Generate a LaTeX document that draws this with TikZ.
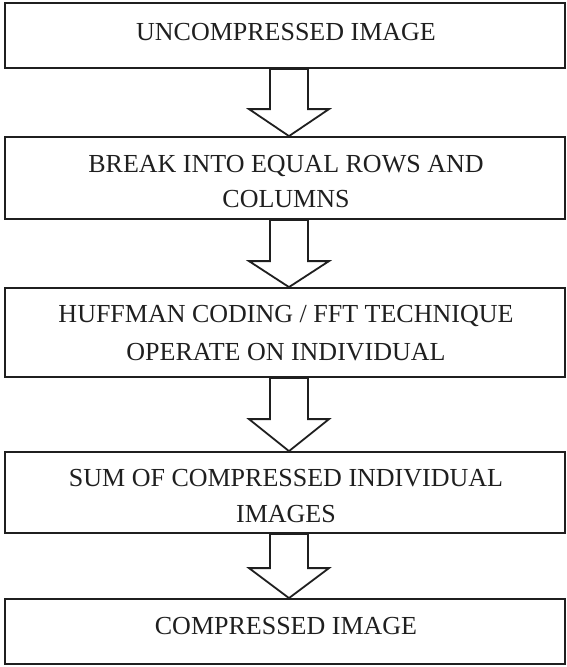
\documentclass[tikz,border=0pt]{standalone}
\usepackage{fontspec}
\setmainfont{Liberation Serif}
\usetikzlibrary{calc}
\tikzset{
  stagebox/.style={draw=black!88, line width=1.8pt, rectangle, minimum width=560pt, inner sep=0pt},
  stagetext/.style={anchor=base, inner sep=0pt, font=\fontsize{26}{31}\selectfont, text=black!88},
  flowarrow/.style={draw=black!88, line width=1.8pt, line join=miter, fill=white}
}
% block arrow: #1 shaft top, #2 tip, #3 head height
\newcommand{\blockarrow}[3]{%
  \draw[flowarrow] ($(#1)+(-19pt,0)$) -- ($(#2)+(-19pt,#3)$) -- ($(#2)+(-40pt,#3)$)
    -- (#2) -- ($(#2)+(40pt,#3)$) -- ($(#2)+(19pt,#3)$) -- ($(#1)+(19pt,0)$) -- cycle;}
\begin{document}
\begin{tikzpicture}[x=1pt,y=1pt]
  \useasboundingbox (0,0) rectangle (566,-667);
  % stage boxes
  \node[stagebox, minimum height=65pt] (box1) at (285,-35.5) {};
  \node[stagebox, minimum height=82pt] (box2) at (285,-178) {};
  \node[stagebox, minimum height=89pt] (box3) at (285,-332.5) {};
  \node[stagebox, minimum height=81pt] (box4) at (285,-492.5) {};
  \node[stagebox, minimum height=65pt] (box5) at (285,-631.5) {};
  % labels
  \node[stagetext] (t1) at (286,-40) {UNCOMPRESSED IMAGE};
  \node[stagetext] (t2a) at (286,-172) {BREAK INTO EQUAL ROWS AND};
  \node[stagetext] (t2b) at (286,-207) {COLUMNS};
  \node[stagetext] (t3a) at (286,-322) {HUFFMAN CODING / FFT TECHNIQUE};
  \node[stagetext] (t3b) at (286,-360) {OPERATE ON INDIVIDUAL};
  \node[stagetext] (t4a) at (286,-486) {SUM OF COMPRESSED INDIVIDUAL};
  \node[stagetext] (t4b) at (286,-522) {IMAGES};
  \node[stagetext] (t5) at (286,-634) {COMPRESSED IMAGE};
  % hollow block arrows between stages
  \coordinate (a1s) at (box1.south -| 289,0);
  \coordinate (a1e) at (box2.north -| 289,0);
  \coordinate (a2s) at (box2.south -| 289,0);
  \coordinate (a2e) at (box3.north -| 289,0);
  \coordinate (a3s) at (box3.south -| 289,0);
  \coordinate (a3e) at (box4.north -| 289,0);
  \coordinate (a4s) at (box4.south -| 289,0);
  \coordinate (a4e) at (box5.north -| 289,0);
  \blockarrow{a1s}{a1e}{27pt}
  \blockarrow{a2s}{a2e}{26pt}
  \blockarrow{a3s}{a3e}{32pt}
  \blockarrow{a4s}{a4e}{30pt}
\end{tikzpicture}
\end{document}
